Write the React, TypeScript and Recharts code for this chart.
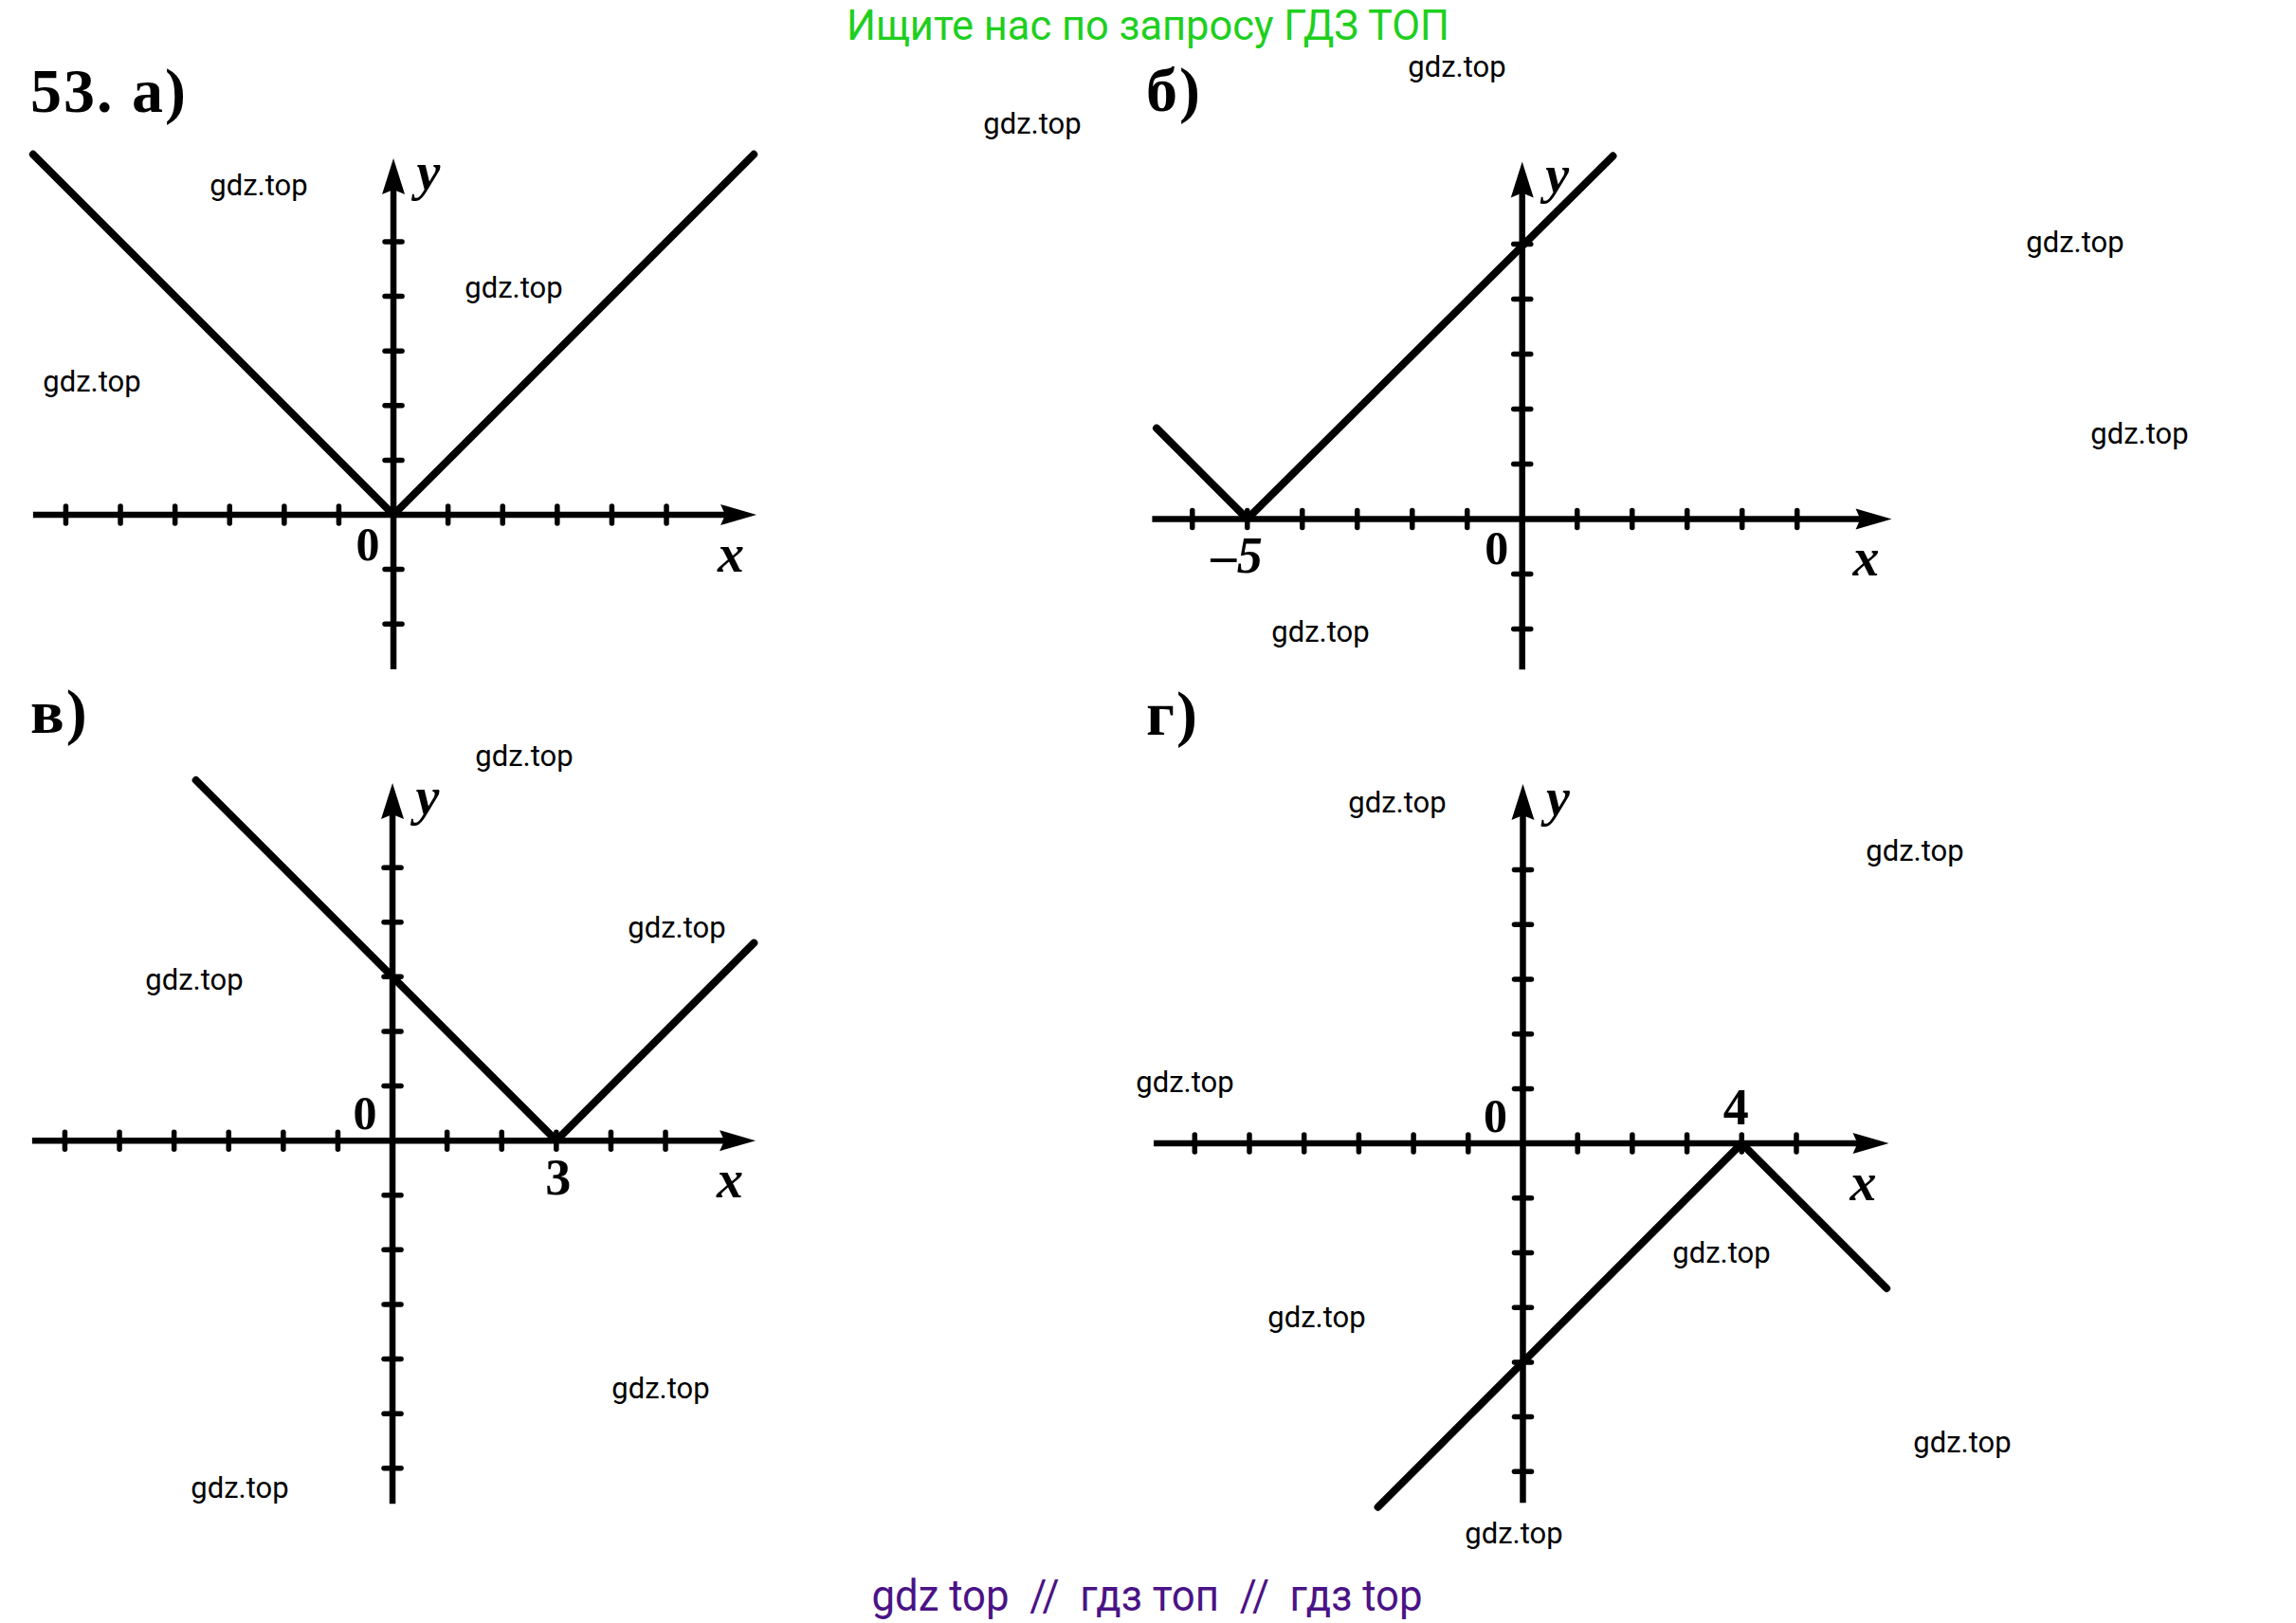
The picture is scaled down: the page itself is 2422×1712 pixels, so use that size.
import React from 'react';
import { ComposedChart, Line, Scatter, XAxis, YAxis, ReferenceLine } from 'recharts';

// ---------- data ----------
// Panel а): y = |x|
const aXTicks = [-6, -5, -4, -3, -2, -1, 1, 2, 3, 4, 5];
const aYTicks = [-2, -1, 1, 2, 3, 4, 5];
const aLine = [{ x: -6.6, y: 6.6 }, { x: 0, y: 0 }, { x: 6.6, y: 6.6 }];
const aXRange = [-6.6, 6.65];
const aYRange = [-2.83, 6.53];
const aTickLabels: { x: number; text: string; side: string }[] = [];

// Panel б): y = |x + 5|
const bXTicks = [-6, -5, -4, -3, -2, -1, 1, 2, 3, 4, 5];
const bYTicks = [-2, -1, 1, 2, 3, 4, 5];
const bLine = [{ x: -6.65, y: 1.65 }, { x: -5, y: 0 }, { x: 1.65, y: 6.6 }];
const bXRange = [-6.73, 6.72];
const bYRange = [-2.74, 6.5];
const bTickLabels = [{ x: -5, text: '–5', side: 'below' }];

// Panel в): y = |x - 3|
const cXTicks = [-6, -5, -4, -3, -2, -1, 1, 2, 3, 4, 5];
const cYTicks = [-6, -5, -4, -3, -2, -1, 1, 2, 3, 4, 5];
const cLine = [{ x: -3.6, y: 6.6 }, { x: 3, y: 0 }, { x: 6.62, y: 3.62 }];
const cXRange = [-6.6, 6.65];
const cYRange = [-6.65, 6.55];
const cTickLabels = [{ x: 3, text: '3', side: 'below' }];

// Panel г): y = -|x - 4|
const dXTicks = [-6, -5, -4, -3, -2, -1, 1, 2, 3, 4, 5];
const dYTicks = [-6, -5, -4, -3, -2, -1, 1, 2, 3, 4, 5];
const dLine = [{ x: -2.65, y: -6.65 }, { x: 4, y: 0 }, { x: 6.65, y: -2.65 }];
const dXRange = [-6.75, 6.69];
const dYRange = [-6.57, 6.57];
const dTickLabels = [{ x: 4, text: '4', side: 'above' }];

const panelLetters = ['53. а)', 'б)', 'в)', 'г)'];
const titleText = 'Ищите нас по запросу ГДЗ ТОП';
const footerText = 'gdz top  //  гдз топ  //  гдз top';
const watermarkText = 'gdz.top';

// ---------- styling / layout ----------
const SERIF = '"Liberation Serif", "DejaVu Serif", serif';
const SANS = 'Roboto, "Noto Sans", sans-serif';

const watermarkSpots = [
  [273, 195], [542, 303], [97, 402], [1089, 130], [1537, 70], [2189, 255], [2257, 457],
  [1393, 666], [553, 797], [714, 978], [205, 1033], [697, 1464], [253, 1569], [1474, 846],
  [2020, 897], [1250, 1141], [1816, 1321], [1389, 1389], [2070, 1521], [1597, 1617],
];

const XTickShape = (p: any) => (
  <line x1={p.cx} x2={p.cx} y1={p.cy - 9} y2={p.cy + 9} stroke="#000" strokeWidth={5.5} strokeLinecap="round" />
);
const YTickShape = (p: any) => (
  <line x1={p.cx - 9} x2={p.cx + 9} y1={p.cy} y2={p.cy} stroke="#000" strokeWidth={5.5} strokeLinecap="round" />
);
const XArrow = (p: any) => (
  <polygon points={`${p.cx},${p.cy} ${p.cx - 38},${p.cy - 11} ${p.cx - 33},${p.cy} ${p.cx - 38},${p.cy + 11}`} fill="#000" />
);
const YArrow = (p: any) => (
  <polygon points={`${p.cx},${p.cy} ${p.cx - 12},${p.cy + 38} ${p.cx},${p.cy + 33} ${p.cx + 12},${p.cy + 38}`} fill="#000" />
);

const labelOffsets: Record<string, [number, number]> = {
  zeroBelow: [-27, 31],
  zeroAbove: [-29, -29],
  xName: [-27, 41],
  yName: [37, 14],
  tickBelow: [2, 39],
  tickAbove: [-6, -38],
};

const LabelShape = (p: any) => {
  const d = p.payload || {};
  const off = labelOffsets[d.place] || [0, 0];
  const dashShift = typeof d.text === 'string' && d.text.startsWith('–') ? -13 : 0;
  return (
    <text
      x={p.cx + off[0] + dashShift}
      y={p.cy + off[1]}
      textAnchor="middle"
      dominantBaseline="central"
      fontFamily={SERIF}
      fontWeight="bold"
      fontStyle={d.italic ? 'italic' : 'normal'}
      fontSize={d.size}
      fill="#000"
    >
      {d.text}
    </text>
  );
};

type PanelProps = {
  ox: number;
  oy: number;
  unit: number;
  xRange: number[];
  yRange: number[];
  xTicks: number[];
  yTicks: number[];
  line: { x: number; y: number }[];
  tickLabels: { x: number; text: string; side: string }[];
  zeroAbove: boolean;
};

function Panel({ ox, oy, unit, xRange, yRange, xTicks, yTicks, line, tickLabels, zeroAbove }: PanelProps) {
  const pad = 1.3;
  const xMin = xRange[0] - pad;
  const xMax = xRange[1] + pad;
  const yMin = yRange[0] - pad;
  const yMax = yRange[1] + pad;
  const w = (xMax - xMin) * unit;
  const h = (yMax - yMin) * unit;
  const left = ox + xMin * unit;
  const top = oy - yMax * unit;

  const xTickData = xTicks.map((t) => ({ x: t, y: 0 }));
  const yTickData = yTicks.map((t) => ({ x: 0, y: t }));
  const labels = [
    { x: 0, y: 0, text: '0', place: zeroAbove ? 'zeroAbove' : 'zeroBelow', size: 50, italic: false },
    { x: xRange[1], y: 0, text: 'x', place: 'xName', size: 56, italic: true },
    { x: 0, y: yRange[1], text: 'y', place: 'yName', size: 56, italic: true },
    ...tickLabels.map((t) => ({
      x: t.x,
      y: 0,
      text: t.text,
      place: t.side === 'above' ? 'tickAbove' : 'tickBelow',
      size: 54,
      italic: t.text.startsWith('–'),
    })),
  ];

  return (
    <div style={{ position: 'absolute', left, top, width: w, height: h }}>
      <ComposedChart width={w} height={h} margin={{ top: 0, right: 0, bottom: 0, left: 0 }}>
        <XAxis type="number" dataKey="x" domain={[xMin, xMax]} hide allowDataOverflow />
        <YAxis type="number" dataKey="y" domain={[yMin, yMax]} hide allowDataOverflow />
        <ReferenceLine
          segment={[{ x: xRange[0], y: 0 }, { x: xRange[1] - 0.4, y: 0 }]}
          stroke="#000"
          strokeWidth={6.5}
          ifOverflow="visible"
        />
        <ReferenceLine
          segment={[{ x: 0, y: yRange[0] }, { x: 0, y: yRange[1] - 0.4 }]}
          stroke="#000"
          strokeWidth={6.5}
          ifOverflow="visible"
        />
        <Scatter data={xTickData} shape={XTickShape} isAnimationActive={false} />
        <Scatter data={yTickData} shape={YTickShape} isAnimationActive={false} />
        <Scatter data={[{ x: xRange[1], y: 0 }]} shape={XArrow} isAnimationActive={false} />
        <Scatter data={[{ x: 0, y: yRange[1] }]} shape={YArrow} isAnimationActive={false} />
        <Line
          data={line}
          dataKey="y"
          type="linear"
          stroke="#000"
          strokeWidth={8}
          strokeLinecap="round"
          strokeLinejoin="round"
          dot={false}
          activeDot={false}
          isAnimationActive={false}
        />
        <Scatter data={labels} shape={LabelShape} isAnimationActive={false} />
      </ComposedChart>
    </div>
  );
}

export default function App() {
  return (
    <div style={{ position: 'absolute', left: 0, top: 0, width: 2422, height: 1712, background: '#fff', overflow: 'hidden' }}>
      <Panel ox={415} oy={543} unit={57.6} xRange={aXRange} yRange={aYRange} xTicks={aXTicks} yTicks={aYTicks} line={aLine} tickLabels={aTickLabels} zeroAbove={false} />
      <Panel ox={1606} oy={547} unit={58} xRange={bXRange} yRange={bYRange} xTicks={bXTicks} yTicks={bYTicks} line={bLine} tickLabels={bTickLabels} zeroAbove={false} />
      <Panel ox={414} oy={1203} unit={57.6} xRange={cXRange} yRange={cYRange} xTicks={cXTicks} yTicks={cYTicks} line={cLine} tickLabels={cTickLabels} zeroAbove={true} />
      <Panel ox={1606} oy={1206} unit={57.7} xRange={dXRange} yRange={dYRange} xTicks={dXTicks} yTicks={dYTicks} line={dLine} tickLabels={dTickLabels} zeroAbove={true} />
      <svg width={2422} height={1712} style={{ position: 'absolute', left: 0, top: 0, pointerEvents: 'none' }}>
        <text x={1211} y={42} textAnchor="middle" fontFamily={SANS} fontSize={44} fill="#1ecf1e" textLength={636} lengthAdjust="spacingAndGlyphs">
          {titleText}
        </text>
        <text x={1210} y={1699} textAnchor="middle" fontFamily={SANS} fontSize={46} fill="#4a1386" textLength={581} lengthAdjust="spacingAndGlyphs" style={{ whiteSpace: 'pre' }}>
          {footerText}
        </text>
        <text x={32} y={118} fontFamily={SERIF} fontWeight="bold" fontSize={66} letterSpacing={2} fill="#000">{panelLetters[0]}</text>
        <text x={1209} y={117} fontFamily={SERIF} fontWeight="bold" fontSize={66} letterSpacing={2} fill="#000">{panelLetters[1]}</text>
        <text x={32} y={773} fontFamily={SERIF} fontWeight="bold" fontSize={66} letterSpacing={2} fill="#000">{panelLetters[2]}</text>
        <text x={1209} y={775} fontFamily={SERIF} fontWeight="bold" fontSize={66} letterSpacing={2} fill="#000">{panelLetters[3]}</text>
        {watermarkSpots.map(([x, y], i) => (
          <text key={i} x={x} y={y} textAnchor="middle" dominantBaseline="central" fontFamily={SANS} fontSize={31} fill="#000">
            {watermarkText}
          </text>
        ))}
      </svg>
    </div>
  );
}
